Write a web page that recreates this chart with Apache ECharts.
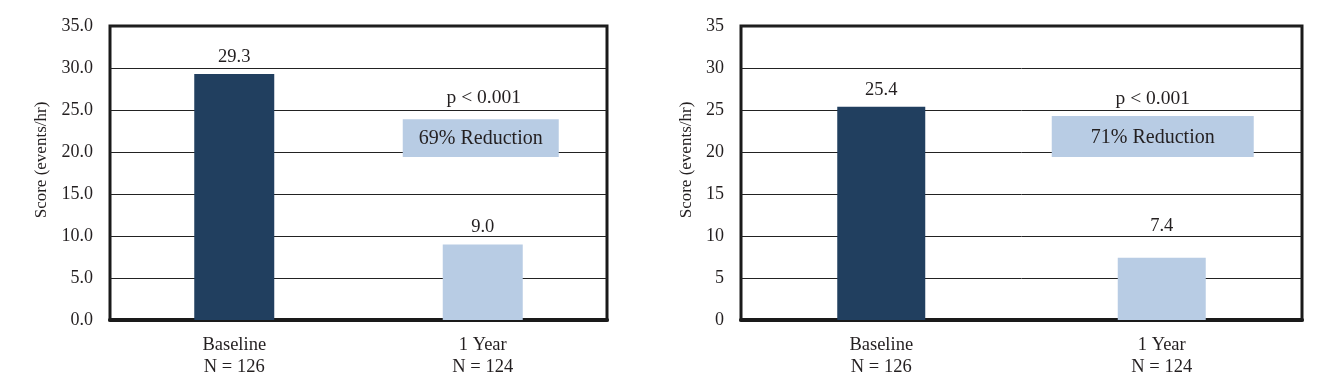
<!DOCTYPE html>
<html><head><meta charset="utf-8">
<script src="https://cdn.jsdelivr.net/npm/echarts@6/dist/echarts.min.js"></script>
<style>html,body{margin:0;padding:0;background:#fff}#c{width:1330px;height:383px}</style>
</head><body><div id="c"></div>
<script>
const categories = ['Baseline\nN = 126', '1 Year\nN = 124'];
const leftValues = [29.3, 9.0];
const rightValues = [25.4, 7.4];
const yAxisName = 'Score (events/hr)';
const pValueText = 'p < 0.001';
const leftReduction = '69% Reduction';
const rightReduction = '71% Reduction';

const FONT = '"Liberation Serif", "Times New Roman", serif';
const TXT = '#231f20';
const DARK = '#213f5f';
const LIGHT = '#b8cce4';

const chart = echarts.init(document.getElementById('c'), null, {renderer: 'canvas'});

function makeAxes(idx, decimals, nameGap) {
  return {
    x: {
      type: 'category', gridIndex: idx, data: categories,
      axisTick: {show: false},
      axisLine: {show: true, lineStyle: {color: '#1a1a1a', width: 4}},
      axisLabel: {color: TXT, fontFamily: FONT, fontSize: 18.5, lineHeight: 22, margin: 14}
    },
    y: {
      type: 'value', gridIndex: idx, min: 0, max: 35, interval: 5,
      name: yAxisName, nameLocation: 'middle', nameGap: nameGap, nameRotate: 90,
      nameTextStyle: {color: TXT, fontFamily: FONT, fontSize: 17, padding: [0, 0, 0, 26]},
      axisLine: {show: false}, axisTick: {show: false},
      axisLabel: {color: TXT, fontFamily: FONT, fontSize: 18, margin: 17,
        formatter: v => v.toFixed(decimals)},
      splitLine: {show: true, lineStyle: {color: '#222', width: 1}}
    }
  };
}
const A0 = makeAxes(0, 1, 60);
const A1 = makeAxes(1, 0, 46);

function barSeries(idx, vals, distances) {
  return {
    type: 'bar', xAxisIndex: idx, yAxisIndex: idx, barWidth: idx === 0 ? 80 : 88,
    data: vals.map((v, i) => ({value: v, itemStyle: {color: i === 0 ? DARK : LIGHT},
      label: {distance: distances[i]}})),
    label: {show: true, position: 'top', color: TXT, fontFamily: FONT, fontSize: 18.5,
      formatter: p => p.value.toFixed(1)},
    z: 3
  };
}

function annotSeries(idx, text, cfg) {
  return {
    type: 'custom', xAxisIndex: idx, yAxisIndex: idx, z: 5, silent: true,
    data: [[1, 0]],
    renderItem: function (params, api) {
      const pc = api.coord([1, cfg.pVal]);
      const top = api.coord([1, cfg.boxTop]);
      const bot = api.coord([1, cfg.boxBottom]);
      const cx = pc[0] + cfg.dx;
      return {
        type: 'group',
        children: [
          {type: 'text', style: {x: cx + cfg.pdx, y: pc[1], text: pValueText, align: 'center', verticalAlign: 'middle',
            fill: TXT, font: '19.5px ' + FONT}},
          {type: 'rect', shape: {x: cx - cfg.w / 2, y: top[1], width: cfg.w, height: bot[1] - top[1]},
            style: {fill: LIGHT}},
          {type: 'text', style: {x: cx, y: (top[1] + bot[1]) / 2 + 1, text: text, align: 'center', verticalAlign: 'middle',
            fill: TXT, font: '20px ' + FONT}}
        ]
      };
    }
  };
}

chart.setOption({
  backgroundColor: '#fff',
  animation: false,
  grid: [
    {left: 110, right: 723, top: 26, bottom: 63, show: true, borderColor: '#1a1a1a', borderWidth: 3, backgroundColor: 'transparent'},
    {left: 741, right: 28, top: 26, bottom: 63, show: true, borderColor: '#1a1a1a', borderWidth: 3, backgroundColor: 'transparent'}
  ],
  xAxis: [A0.x, A1.x],
  yAxis: [A0.y, A1.y],
  series: [
    barSeries(0, leftValues, [7, 8]),
    barSeries(1, rightValues, [7, 22]),
    annotSeries(0, leftReduction, {pVal: 26.4, boxTop: 23.9, boxBottom: 19.4, dx: -2, pdx: 3, w: 156}),
    annotSeries(1, rightReduction, {pVal: 26.3, boxTop: 24.3, boxBottom: 19.4, dx: -9, pdx: 0, w: 202})
  ]
});
</script>
</body></html>
